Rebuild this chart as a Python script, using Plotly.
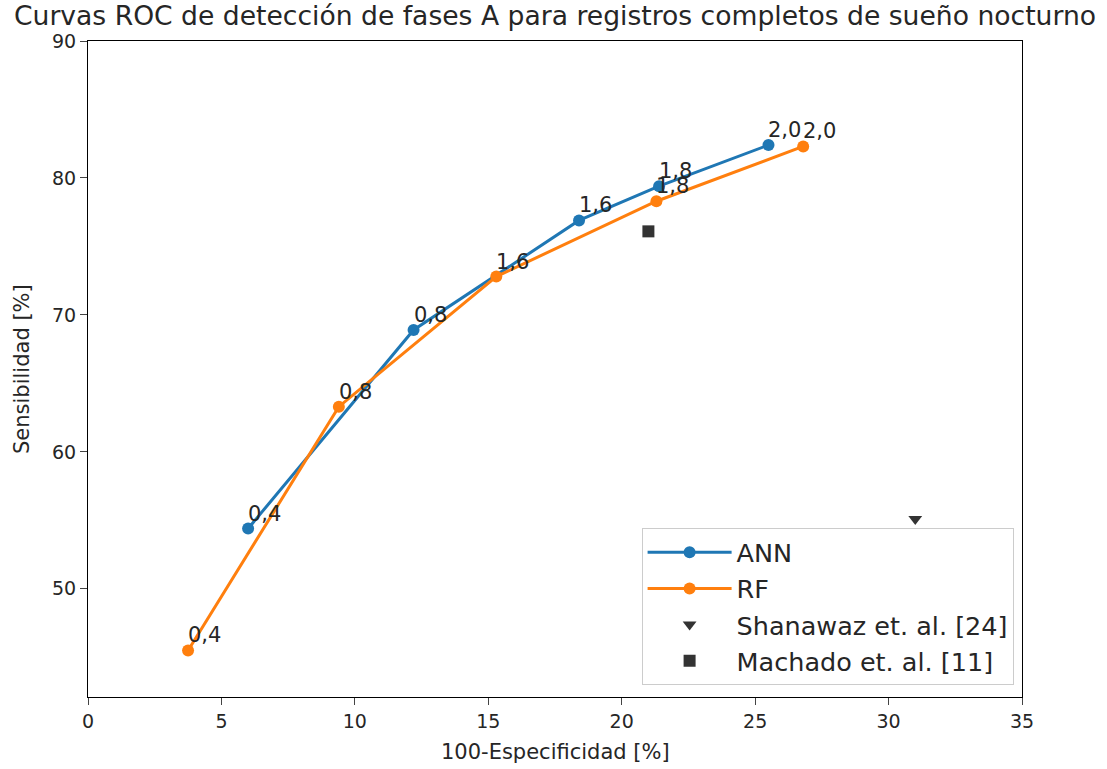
import plotly.graph_objects as go

ann_x = [6.0, 12.2, 18.4, 21.4, 25.5]
ann_y = [54.4, 68.9, 76.9, 79.4, 82.4]
ann_lbl = ["0,4", "0,8", "1,6", "1,8", "2,0"]

rf_x = [3.75, 9.4, 15.3, 21.3, 26.8]
rf_y = [45.5, 63.3, 72.8, 78.3, 82.3]
rf_lbl = ["0,4", "0,8", "1,6", "1,8", "2,0"]

shan_x, shan_y = [31.0], [55.1]
mach_x, mach_y = [21.0], [76.1]

x_ticks = [0, 5, 10, 15, 20, 25, 30, 35]
y_ticks = [50, 60, 70, 80, 90]

BLUE = "#1f77b4"
ORANGE = "#ff7f0e"
DARK = "#333333"
FONT = "DejaVu Sans"
TXT = "#262626"

fig = go.Figure()
fig.add_trace(go.Scatter(x=ann_x, y=ann_y, mode="lines+markers", name="ANN",
                         line=dict(color=BLUE, width=3), marker=dict(size=12, color=BLUE)))
fig.add_trace(go.Scatter(x=rf_x, y=rf_y, mode="lines+markers", name="RF",
                         line=dict(color=ORANGE, width=3), marker=dict(size=12, color=ORANGE)))
fig.add_trace(go.Scatter(x=shan_x, y=shan_y, mode="markers", name="Shanawaz et. al. [24]",
                         marker=dict(symbol="triangle-down", size=12, color=DARK)))
fig.add_trace(go.Scatter(x=mach_x, y=mach_y, mode="markers", name="Machado et. al. [11]",
                         marker=dict(symbol="square", size=12, color=DARK)))

annotations = []
for xs, ys, ls in [(ann_x, ann_y, ann_lbl), (rf_x, rf_y, rf_lbl)]:
    for x, y, l in zip(xs, ys, ls):
        annotations.append(dict(x=x, y=y, text=l, showarrow=False, xanchor="left",
                                yanchor="bottom", xshift=-1, yshift=2, borderpad=0,
                                font=dict(family=FONT, size=21, color=TXT)))
annotations.append(dict(x=-0.0707, y=0.5, xref="paper", yref="paper", text="Sensibilidad [%]",
                        textangle=-90, showarrow=False, xanchor="center", yanchor="middle",
                        font=dict(family=FONT, size=21, color=TXT)))
annotations.append(dict(x=0.5, y=-0.0838, xref="paper", yref="paper", text="100-Especificidad [%]",
                        showarrow=False, xanchor="center", yanchor="middle",
                        font=dict(family=FONT, size=21, color=TXT)))

fig.update_layout(
    width=1107, height=769,
    margin=dict(l=88, r=85, t=41, b=72),
    paper_bgcolor="white", plot_bgcolor="white",
    font=dict(family=FONT, color=TXT),
    title=dict(text="Curvas ROC de detección de fases A para registros completos de sueño nocturno",
               x=0.5, xref="paper", xanchor="center", y=0.979, yanchor="middle",
               font=dict(family=FONT, size=26.6, color=TXT)),
    annotations=annotations,
    legend=dict(x=0.991, y=0.018, xanchor="right", yanchor="bottom",
                bgcolor="white", bordercolor="#cccccc", borderwidth=1,
                font=dict(family=FONT, size=25.5, color=TXT),
                itemwidth=84, tracegroupgap=0),
    showlegend=True,
)
fig.update_xaxes(range=[0, 35], tickvals=x_ticks, ticks="outside", ticklen=7, tickwidth=1,
                 showline=True, linecolor="black", linewidth=1, mirror=True, showgrid=False,
                 zeroline=False, automargin=False, tickfont=dict(family=FONT, size=19, color=TXT))
fig.update_yaxes(range=[42.1, 90], tickvals=y_ticks, ticks="outside", ticklen=7, tickwidth=1,
                 showline=True, linecolor="black", linewidth=1, mirror=True, showgrid=False,
                 zeroline=False, automargin=False, tickfont=dict(family=FONT, size=19, color=TXT))

fig.write_html("out.html")
